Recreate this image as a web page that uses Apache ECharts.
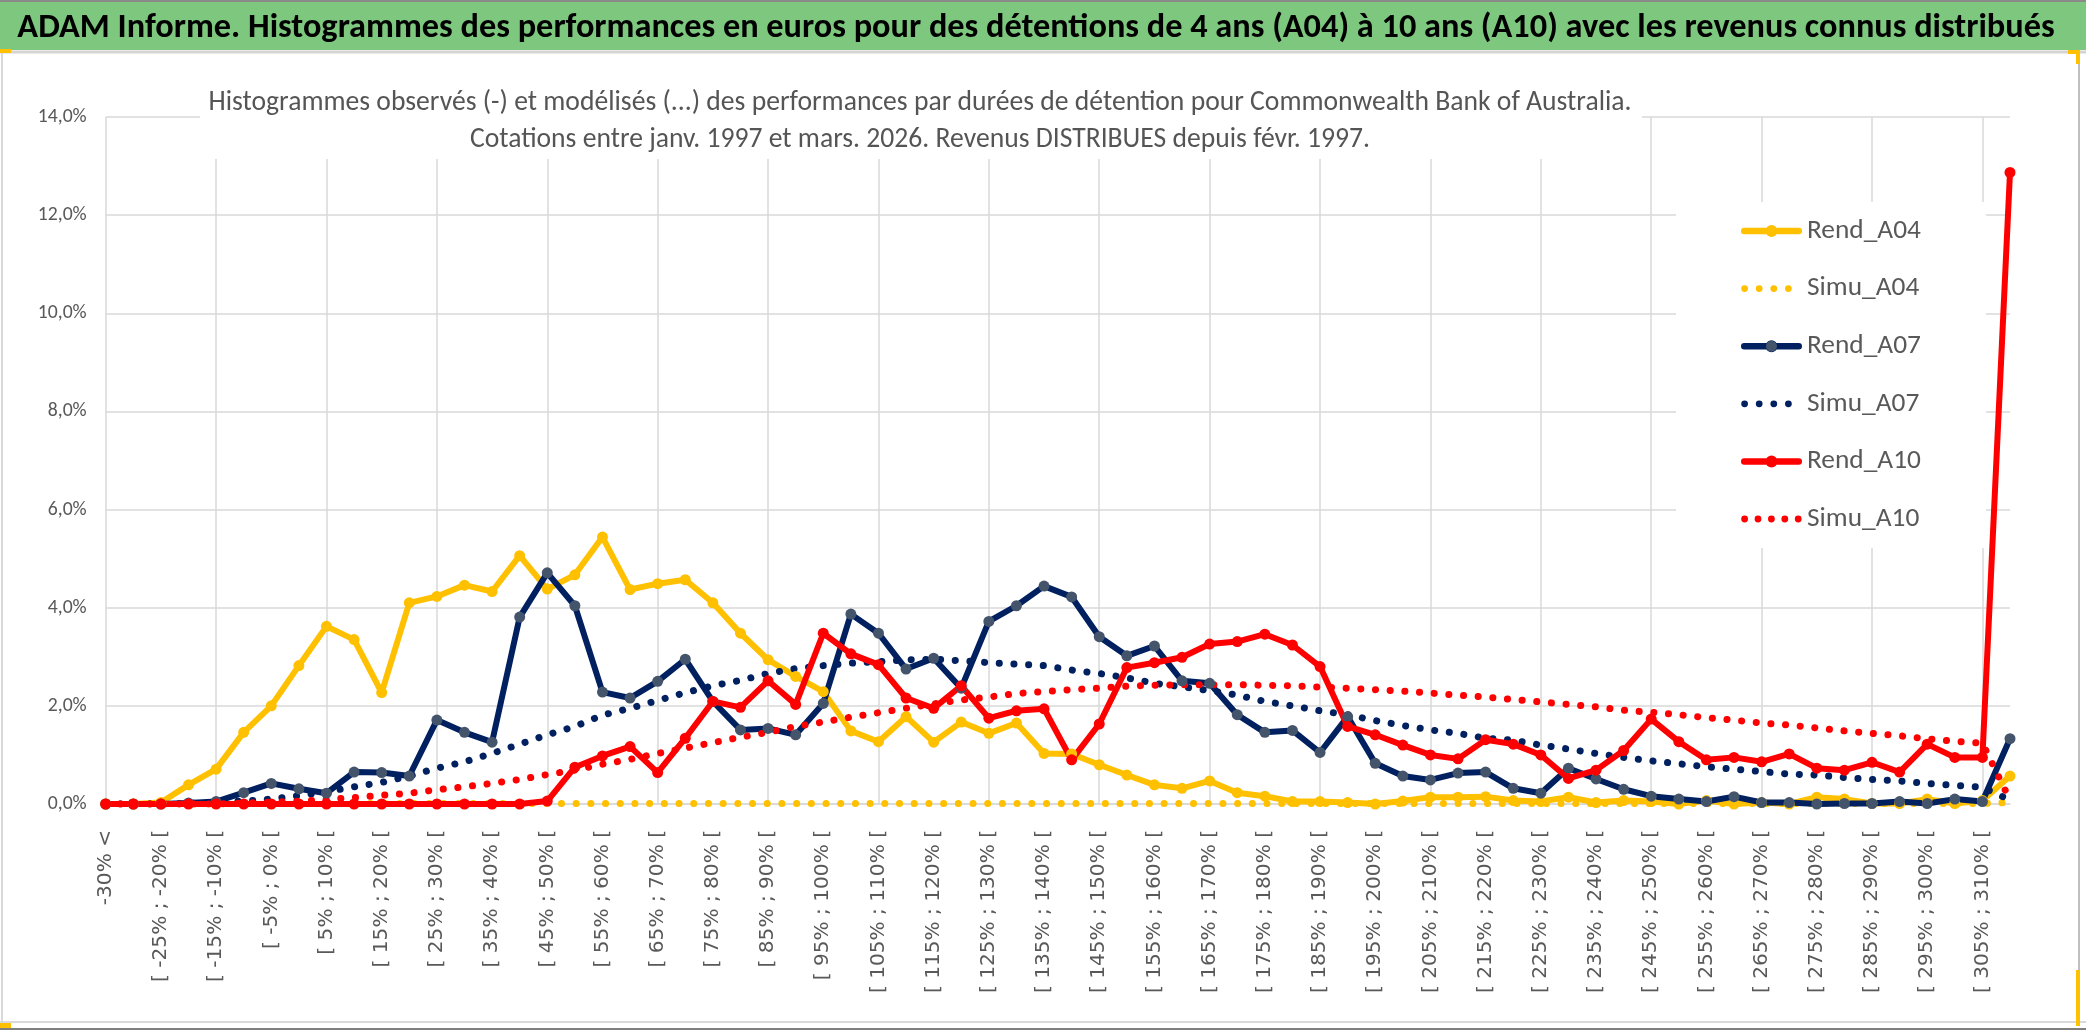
<!DOCTYPE html>
<html>
<head>
<meta charset="utf-8">
<script src="https://cdn.jsdelivr.net/npm/echarts@6/dist/echarts.min.js"></script>
<style>
html,body{margin:0;padding:0;background:#fff;}
#chart{width:2086px;height:1031px;}
</style>
</head>
<body>
<div id="chart"></div>
<script>
// ---------- DATA ----------
const categories = ["-30% <","[ -30% ; -25% [","[ -25% ; -20% [","[ -20% ; -15% [","[ -15% ; -10% [","[ -10% ; -5% [","[ -5% ; 0% [","[ 0% ; 5% [","[ 5% ; 10% [","[ 10% ; 15% [",
"[ 15% ; 20% [","[ 20% ; 25% [","[ 25% ; 30% [","[ 30% ; 35% [","[ 35% ; 40% [","[ 40% ; 45% [","[ 45% ; 50% [","[ 50% ; 55% [","[ 55% ; 60% [","[ 60% ; 65% [",
"[ 65% ; 70% [","[ 70% ; 75% [","[ 75% ; 80% [","[ 80% ; 85% [","[ 85% ; 90% [","[ 90% ; 95% [","[ 95% ; 100% [","[ 100% ; 105% [","[ 105% ; 110% [","[ 110% ; 115% [",
"[ 115% ; 120% [","[ 120% ; 125% [","[ 125% ; 130% [","[ 130% ; 135% [","[ 135% ; 140% [","[ 140% ; 145% [","[ 145% ; 150% [","[ 150% ; 155% [","[ 155% ; 160% [","[ 160% ; 165% [",
"[ 165% ; 170% [","[ 170% ; 175% [","[ 175% ; 180% [","[ 180% ; 185% [","[ 185% ; 190% [","[ 190% ; 195% [","[ 195% ; 200% [","[ 200% ; 205% [","[ 205% ; 210% [","[ 210% ; 215% [",
"[ 215% ; 220% [","[ 220% ; 225% [","[ 225% ; 230% [","[ 230% ; 235% [","[ 235% ; 240% [","[ 240% ; 245% [","[ 245% ; 250% [","[ 250% ; 255% [","[ 255% ; 260% [","[ 260% ; 265% [",
"[ 265% ; 270% [","[ 270% ; 275% [","[ 275% ; 280% [","[ 280% ; 285% [","[ 285% ; 290% [","[ 290% ; 295% [","[ 295% ; 300% [","[ 300% ; 305% [","[ 305% ; 310% [","> 310%"];

const rendA04 = [0,0,0.03,0.39,0.71,1.46,2.00,2.82,3.62,3.35,
2.27,4.10,4.23,4.46,4.33,5.06,4.38,4.67,5.44,4.37,
4.49,4.57,4.10,3.48,2.94,2.60,2.29,1.49,1.27,1.78,
1.26,1.67,1.44,1.65,1.03,1.02,0.80,0.59,0.39,0.32,
0.47,0.23,0.16,0.05,0.05,0.03,0.00,0.06,0.14,0.14,
0.15,0.07,0.05,0.14,0.03,0.07,0.05,0.00,0.07,0.00,
0.03,0.00,0.14,0.10,0.01,0.01,0.10,0.01,0.07,0.57];

const simuA04 = [0,0,0,0,0,0.01,0.01,0.01,0.01,0.01,
0.01,0.01,0.01,0.01,0.01,0.01,0.01,0.01,0.01,0.01,
0.01,0.01,0.01,0.01,0.01,0.01,0.01,0.01,0.01,0.01,
0.01,0.01,0.01,0.01,0.01,0.01,0.01,0.01,0.01,0.01,
0.01,0.01,0.01,0.01,0.01,0.01,0.01,0.01,0.01,0.01,
0.01,0.01,0.01,0.01,0.01,0.01,0.01,0.01,0.01,0.01,
0.01,0.01,0.01,0.01,0.01,0.01,0.01,0.01,0.01,0.03];

const rendA07 = [0,0,0,0.02,0.05,0.23,0.42,0.31,0.22,0.65,
0.64,0.57,1.71,1.46,1.26,3.81,4.71,4.04,2.28,2.16,
2.50,2.95,2.09,1.51,1.54,1.41,2.05,3.87,3.48,2.75,
2.97,2.36,3.72,4.04,4.44,4.22,3.41,3.02,3.22,2.51,
2.46,1.82,1.46,1.50,1.05,1.78,0.83,0.57,0.49,0.63,
0.65,0.32,0.22,0.73,0.51,0.30,0.16,0.10,0.05,0.15,
0.03,0.03,0.00,0.01,0.01,0.05,0.01,0.10,0.05,1.33];

const simuA07 = [0,0,0,0.01,0.03,0.06,0.10,0.17,0.25,0.35,
0.44,0.57,0.73,0.86,1.03,1.22,1.41,1.58,1.81,1.95,
2.11,2.27,2.41,2.52,2.66,2.76,2.82,2.87,2.90,2.94,
2.95,2.92,2.88,2.85,2.82,2.73,2.66,2.57,2.46,2.39,
2.31,2.22,2.09,2.00,1.90,1.82,1.70,1.60,1.51,1.44,
1.34,1.30,1.20,1.12,1.03,0.95,0.88,0.82,0.76,0.71,
0.66,0.61,0.59,0.54,0.50,0.47,0.42,0.38,0.34,0.08];

const rendA10 = [0,0,0,0,0,0,0,0,0,0,
0,0,0,0,0,0,0.06,0.75,0.98,1.17,
0.64,1.34,2.09,1.97,2.51,2.03,3.48,3.06,2.84,2.16,
1.95,2.41,1.75,1.90,1.94,0.90,1.63,2.78,2.88,2.99,
3.26,3.31,3.46,3.24,2.80,1.58,1.41,1.20,1.00,0.92,
1.31,1.22,1.00,0.52,0.69,1.09,1.73,1.27,0.90,0.95,
0.86,1.02,0.73,0.69,0.85,0.65,1.22,0.95,0.95,12.87];

const simuA10 = [0,0,0,0,0,0.02,0.04,0.06,0.09,0.13,
0.18,0.22,0.29,0.35,0.42,0.50,0.60,0.69,0.81,0.91,
1.03,1.14,1.25,1.36,1.46,1.58,1.67,1.77,1.86,1.95,
2.04,2.12,2.18,2.25,2.29,2.33,2.36,2.40,2.42,2.43,
2.43,2.43,2.42,2.41,2.38,2.36,2.33,2.30,2.26,2.22,
2.18,2.13,2.08,2.03,1.98,1.91,1.87,1.82,1.76,1.71,
1.65,1.61,1.55,1.49,1.44,1.39,1.33,1.28,1.24,0.08];

const yTicks = {min: 0, max: 14, interval: 2};
const seriesNames = ['Rend_A04','Simu_A04','Rend_A07','Simu_A07','Rend_A10','Simu_A10'];

const mainTitle = "ADAM Informe. Histogrammes des performances en euros pour des détentions de 4 ans (A04) à 10 ans (A10) avec les revenus connus distribués";
const subTitle1 = "Histogrammes observés (-) et modélisés (...) des performances par durées de détention pour Commonwealth Bank of Australia.";
const subTitle2 = "Cotations entre janv. 1997 et mars. 2026. Revenus DISTRIBUES depuis févr. 1997.";

// ---------- FONTS ----------
const ctx = document.createElement('canvas').getContext('2d');
function hasFont(name){
  const s = 'abcdefghijklmnopqrstuvwxyzABCDEFGHIJ0123456789';
  ctx.font = '40px monospace'; const a = ctx.measureText(s).width;
  ctx.font = "40px '" + name + "', monospace"; const b = ctx.measureText(s).width;
  ctx.font = '40px serif'; const c = ctx.measureText(s).width;
  ctx.font = "40px '" + name + "', serif"; const d = ctx.measureText(s).width;
  return a !== b || c !== d;
}
let CAL = "Lato";
if (hasFont('Carlito')) CAL = "Carlito";
else if (hasFont('Liberation Sans Narrow')) CAL = "Liberation Sans Narrow";
const CALF = "'" + CAL + "', 'Liberation Sans', sans-serif";
const VERF = "'DejaVu Sans', Verdana, sans-serif";
function fit(text, family, weight, target){
  ctx.font = weight + ' 100px ' + family;
  return 100 * target / ctx.measureText(text).width;
}
const fsTitle = fit(mainTitle, CALF, 'bold', 2038);
const fsSub = fit(subTitle1, CALF, 'normal', 1424);
const fsLegend = fit('Rend_A04', CALF, 'normal', 114);
const fsY = fit('14,0%', CALF, 'normal', 49);
const fsX = fit('[ -25% ; -20% [', VERF, 'normal', 152);

// legend icons (61x15 box)
function dotsIcon(n, step){
  let p = 'path://M0,0 L0,0 M61,15 L61,15';
  const r = 3.4;
  for (let k = 0; k < n; k++){
    const cx = 3.6 + k * step;
    p += ' M' + (cx - r) + ',7.5 a' + r + ',' + r + ' 0 1,0 ' + (2*r) + ',0 a' + r + ',' + r + ' 0 1,0 ' + (-2*r) + ',0 Z';
  }
  return p;
}
const lineMarkerIcon = 'path://M0,0 L0,0 M61,15 L61,15 ' +
  'M3.25,4.25 L57.75,4.25 A3.25,3.25 0 0,1 57.75,10.75 L3.25,10.75 A3.25,3.25 0 0,1 3.25,4.25 Z ' +
  'M24.5,7.5 A6,6 0 1,1 36.5,7.5 A6,6 0 1,1 24.5,7.5 Z';

// ---------- CHART ----------
const chart = echarts.init(document.getElementById('chart'), null, {renderer: 'canvas'});
const GOLD = '#FFC000', NAVY = '#002060', NAVYM = '#44546A', RED = '#FF0000';
const dot = [0.1, 14.6];
function rend(name, data, lc, mc){
  return {name, type:'line', data, symbol:'circle', symbolSize:11, showSymbol:true,
    lineStyle:{color:lc, width:6, join:'round', cap:'round'}, itemStyle:{color:mc, borderWidth:0}, z:3};
}
function simu(name, data, c){
  return {name, type:'line', data, symbol:'none',
    lineStyle:{color:c, width:7, type:dot, cap:'round', join:'round'}, itemStyle:{color:c, borderWidth:0}, z:3};
}
// legend layout values (used for the A07 marker overlay)
const LEG = {left:1676, top:202, padL:65, padT:14, itemW:61, itemH:15, rowH:30, gap:27.6};
const legRowCenter = k => LEG.top + LEG.padT + k * (LEG.rowH + LEG.gap) + LEG.rowH / 2;

const option = {
  animation:false,
  backgroundColor:'#ffffff',
  grid:{left:105.7, right:76, top:117, bottom:227, containLabel:false},
  xAxis:{type:'category', data:categories, boundaryGap:false,
    axisLine:{show:true, lineStyle:{color:'#d9d9d9', width:1.5}},
    axisTick:{show:false},
    axisLabel:{interval:1, rotate:90, margin:26, color:'#595959', fontFamily:VERF, fontSize:fsX},
    splitLine:{show:true, interval:3, lineStyle:{color:'#d9d9d9', width:1.5}}},
  yAxis:{type:'value', min:yTicks.min, max:yTicks.max, interval:yTicks.interval,
    axisLine:{show:false}, axisTick:{show:false},
    axisLabel:{margin:19, color:'#595959', fontFamily:CALF, fontSize:fsY,
      formatter:v => v.toFixed(1).replace('.', ',') + '%'},
    splitLine:{lineStyle:{color:'#d9d9d9', width:1.5}}},
  legend:{orient:'vertical', left:LEG.left, top:LEG.top, padding:[LEG.padT,65,14,LEG.padL], backgroundColor:'#ffffff',
    itemWidth:LEG.itemW, itemHeight:LEG.itemH, itemGap:LEG.gap,
    itemStyle:{borderWidth:0},
    textStyle:{color:'#595959', fontFamily:CALF, fontSize:fsLegend, lineHeight:LEG.rowH},
    data:[
      {name:seriesNames[0], icon:lineMarkerIcon, itemStyle:{color:GOLD}},
      {name:seriesNames[1], icon:dotsIcon(4, 14.6)},
      {name:seriesNames[2], icon:lineMarkerIcon, itemStyle:{color:NAVY}},
      {name:seriesNames[3], icon:dotsIcon(4, 14.6)},
      {name:seriesNames[4], icon:lineMarkerIcon, itemStyle:{color:RED}},
      {name:seriesNames[5], icon:dotsIcon(5, 13.4)}
    ]},
  series:[
    rend(seriesNames[0], rendA04, GOLD, GOLD),
    simu(seriesNames[1], simuA04, GOLD),
    rend(seriesNames[2], rendA07, NAVY, NAVYM),
    simu(seriesNames[3], simuA07, NAVY),
    rend(seriesNames[4], rendA10, RED, RED),
    simu(seriesNames[5], simuA10, RED)
  ],
  graphic:[
    {type:'rect', shape:{x:0, y:0, width:2086, height:50}, style:{fill:'#7DC87E'}, z:10},
    {type:'line', shape:{x1:0, y1:1, x2:2086, y2:1}, style:{stroke:'#8a8a8a', lineWidth:2}, z:11},
    {type:'line', shape:{x1:0, y1:52, x2:2086, y2:52}, style:{stroke:'#d4d4d4', lineWidth:3}, z:11},
    {type:'text', x:1036, y:28, z:12, style:{text:mainTitle, fill:'#000', align:'center', verticalAlign:'middle',
      font:'bold ' + fsTitle + 'px ' + CALF}},
    {type:'rect', shape:{x:200, y:78, width:1442, height:81}, style:{fill:'#ffffff'}, z:10},
    {type:'text', x:920, y:103, z:12, style:{text:subTitle1, fill:'#555555', align:'center', verticalAlign:'middle',
      font:'normal ' + fsSub + 'px ' + CALF}},
    {type:'text', x:920, y:140, z:12, style:{text:subTitle2, fill:'#555555', align:'center', verticalAlign:'middle',
      font:'normal ' + fsSub + 'px ' + CALF}},
    {type:'circle', shape:{cx:LEG.left + LEG.padL + LEG.itemW / 2, cy:legRowCenter(2), r:5.5}, style:{fill:NAVYM}, z:20},
    {type:'line', shape:{x1:2, y1:53, x2:2, y2:1026}, style:{stroke:'#d9d9d9', lineWidth:2}, z:11},
    {type:'line', shape:{x1:2079, y1:53, x2:2079, y2:1026}, style:{stroke:'#bfbfbf', lineWidth:2}, z:11},
    {type:'line', shape:{x1:0, y1:1022, x2:2086, y2:1022}, style:{stroke:'#d9d9d9', lineWidth:2}, z:11},
    {type:'line', shape:{x1:0, y1:1029, x2:2086, y2:1029}, style:{stroke:'#7f7f7f', lineWidth:2}, z:11},
    {type:'rect', shape:{x:0, y:49, width:11, height:4}, style:{fill:'#FFC000'}, z:12},
    {type:'rect', shape:{x:2068, y:50, width:12, height:4}, style:{fill:'#FFC000'}, z:12},
    {type:'rect', shape:{x:2076, y:50, width:4, height:14}, style:{fill:'#FFC000'}, z:12},
    {type:'rect', shape:{x:2076, y:970, width:4, height:56}, style:{fill:'#FFC000'}, z:12},
    {type:'rect', shape:{x:0, y:1023, width:11, height:5}, style:{fill:'#FFC000'}, z:12}
  ]
};
chart.setOption(option);
</script>
</body>
</html>
